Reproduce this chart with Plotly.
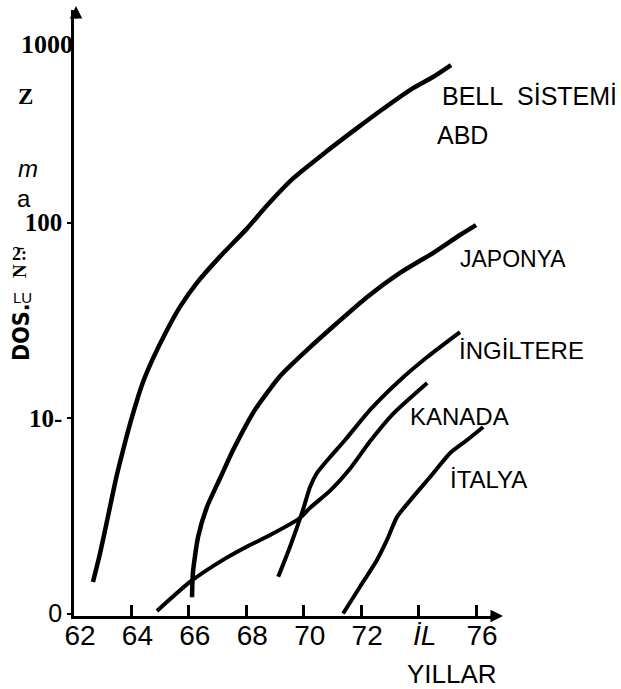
import plotly.graph_objects as go

# ---- data ----
bell_years = [62.66, 62.91, 63.18, 63.46, 63.71, 63.99, 64.37, 64.72, 65.24, 65.69, 66.28, 67.09,
              68.03, 68.65, 69.63, 70.81, 71.96, 72.66, 73.70, 74.50, 75.13]
bell_vals = [1.45, 2.04, 3.12, 4.88, 6.86, 9.77, 14.8, 19.7, 28.2, 37.0, 49.1, 67.1,
             93.3, 119, 168, 232, 312, 372, 476, 555, 639]

japan_years = [66.11, 66.14, 66.32, 66.63, 67.09, 67.54, 68.30, 69.18, 70.12, 71.16, 72.21, 73.35,
               74.50, 75.44, 76.00]
japan_vals = [1.21, 1.61, 2.46, 3.51, 4.93, 6.86, 11.0, 16.4, 22.3, 30.6, 41.6, 55.2, 69.8, 86.3, 97]

kanada_years = [64.89, 66.04, 67.19, 68.13, 68.83, 69.87, 70.22, 70.92, 71.61, 72.31, 73.11, 74.30]
kanada_vals = [1.03, 1.45, 1.88, 2.24, 2.52, 3.08, 3.47, 4.25, 5.5, 7.6, 10.5, 15.1]

ingiltere_years = [69.11, 69.52, 69.97, 70.22, 70.46, 70.92, 71.44, 72.31, 73.35, 74.30, 75.44]
ingiltere_vals = [1.54, 2.19, 3.38, 4.44, 5.23, 6.32, 7.72, 11.0, 15.6, 20.5, 27.5]

italya_years = [71.37, 71.96, 72.55, 72.90, 73.25, 73.81, 74.40, 75.10, 75.69, 76.25]
italya_vals = [1.0, 1.37, 1.88, 2.38, 3.12, 3.95, 4.99, 6.62, 7.72, 9.0]

x_tickvals = [62, 64, 66, 68, 70, 72, 74, 76]
x_ticktext = ["62", "64", "66", "68", "70", "72", "<i>İL</i>", "76"]
y_tickvals = [1, 10, 100]
y_ticktext = ['<span style="font-family:Liberation Sans;font-weight:normal">0</span>',
              "<b>10-</b>", "<b>100</b>"]

series = [
    (bell_years, bell_vals, 4.5),
    (japan_years, japan_vals, 4.5),
    (kanada_years, kanada_vals, 4),
    (ingiltere_years, ingiltere_vals, 4),
    (italya_years, italya_vals, 4),
]

# ---- figure ----
W, H = 621, 689
L, R, T, B = 74, 497, 10, 616

fig = go.Figure()
for xs, ys, w in series:
    fig.add_trace(go.Scatter(x=xs, y=ys, mode="lines",
                             line=dict(color="black", width=w, shape="spline", smoothing=0.6),
                             showlegend=False, hoverinfo="skip"))


def px2paper(px, py):
    return (px - L) / (R - L), (B - py) / (B - T)


SANS = "Liberation Sans, Arial, sans-serif"
SERIF = "Liberation Serif, Times New Roman, serif"
NARROW = "Liberation Sans Narrow, DejaVu Sans Condensed, Liberation Sans, sans-serif"

ann = []


def text(t, px, py, size, family=SANS, xanchor="center", angle=0, color="black"):
    xp, yp = px2paper(px, py)
    ann.append(dict(text=t, x=xp, y=yp, xref="paper", yref="paper", showarrow=False,
                    xanchor=xanchor, yanchor="middle", textangle=angle,
                    font=dict(family=family, size=size, color=color)))


text("BELL\u00a0\u00a0SİSTEMİ", 440, 96, 25, xanchor="left")
text("ABD", 435, 135, 25, xanchor="left")
text("JAPONYA", 458, 259, 23, xanchor="left")
text("İNGİLTERE", 457, 350, 24, xanchor="left")
text("KANADA", 408, 416, 24, xanchor="left")
text("İTALYA", 448, 480, 24, xanchor="left")
text("YILLAR", 452, 674, 26)

# left-side texts
text("<b>1000</b>", 47, 45, 26, family=SERIF)
text("<b>Z</b>", 25, 96, 23, family=SERIF)
text("<i>m</i>", 28, 168, 24)
text("a", 24, 198, 24)
text("<b>2\u0304:</b>", 19, 254, 18, family=SERIF)
text("<b>N</b>", 19, 271, 19, family=SERIF, angle=-90)
text("LU", 22, 297, 15)
text("<b>DOS.</b>", 21, 332, 23, family=NARROW, angle=-90)

# axis arrowheads
xa, ya = px2paper(503, B)
ann.append(dict(x=xa, y=ya, xref="paper", yref="paper", text="", showarrow=True,
                ax=-14, ay=0, arrowhead=2, arrowsize=1, arrowwidth=2.5, arrowcolor="black"))
xa, ya = px2paper(76, 6)
ann.append(dict(x=xa, y=ya, xref="paper", yref="paper", text="", showarrow=True,
                ax=0, ay=14, arrowhead=2, arrowsize=1, arrowwidth=2.5, arrowcolor="black"))

fig.update_layout(
    width=W, height=H,
    margin=dict(l=L, r=W - R, t=T, b=H - B, pad=0),
    paper_bgcolor="white", plot_bgcolor="white",
    annotations=ann,
    xaxis=dict(range=[62, 76.73], showgrid=False, zeroline=False,
               showline=True, linecolor="black", linewidth=2.5,
               tickvals=x_tickvals, ticktext=x_ticktext,
               ticks="inside", ticklen=11, tickwidth=2.5, tickcolor="black",
               ticklabelshift=6, ticklabelstandoff=-7,
               tickfont=dict(family=SANS, size=28, color="black")),
    yaxis=dict(type="log", range=[-0.0128, 3.087], showgrid=False, zeroline=False,
               showline=True, linecolor="black", linewidth=2.5,
               tickvals=y_tickvals, ticktext=y_ticktext,
               ticks="outside", ticklen=4, tickwidth=2, tickcolor="black",
               tickfont=dict(family=SERIF, size=25, color="black")),
)

fig.write_html("out.html")
